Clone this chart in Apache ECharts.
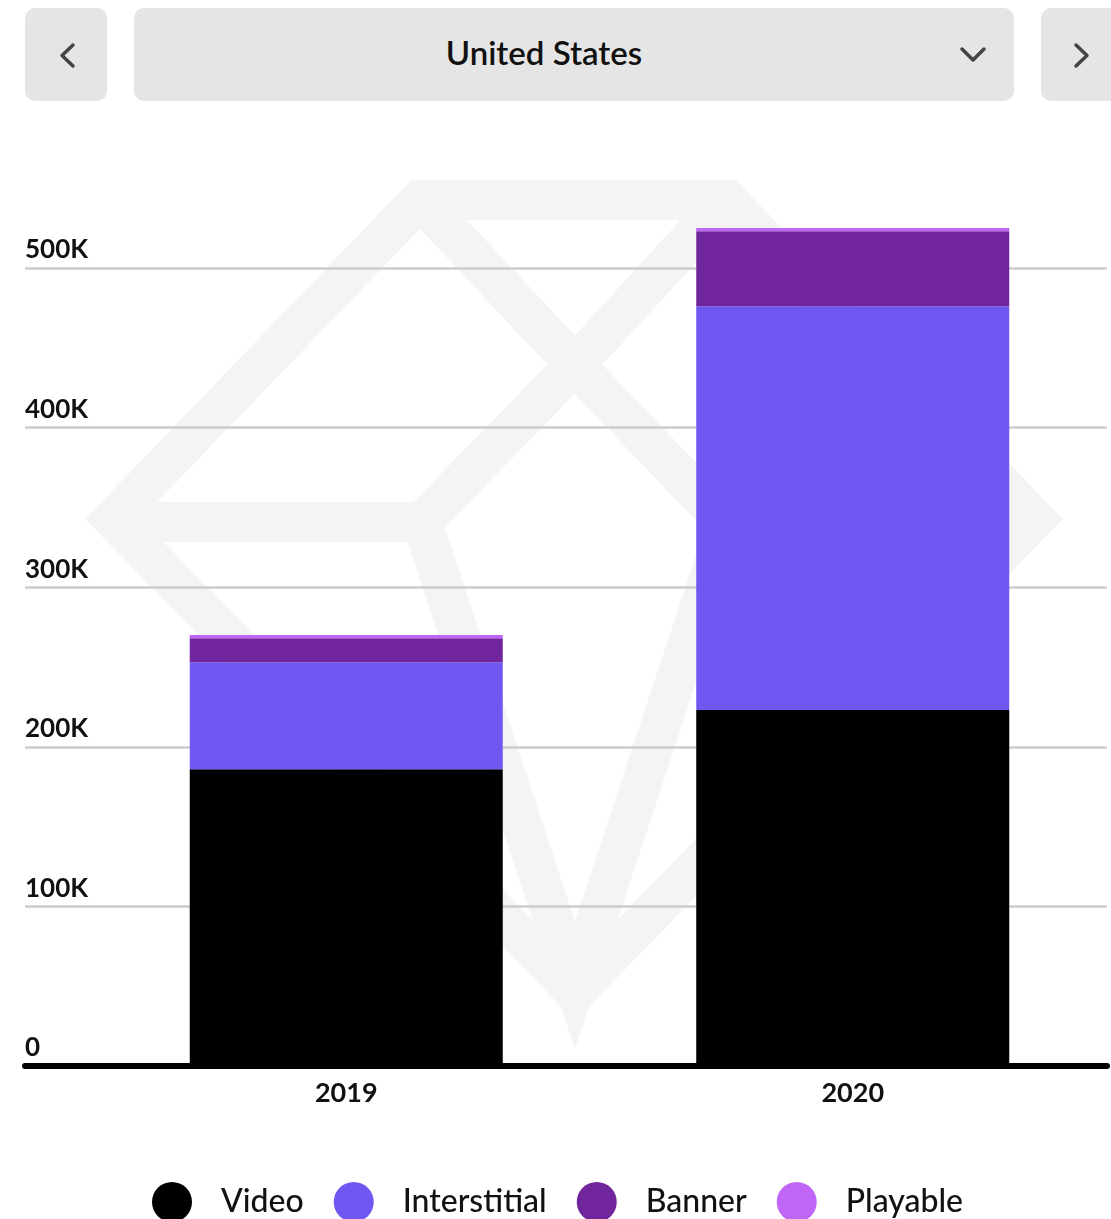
<!DOCTYPE html>
<html>
<head>
<meta charset="utf-8">
<script src="https://cdn.jsdelivr.net/npm/echarts@6/dist/echarts.min.js"></script>
<style>
html,body{margin:0;padding:0;background:#fff;width:1111px;height:1219px;overflow:hidden;}
#chart{position:absolute;left:0;top:0;width:1111px;height:1219px;}
.box{position:absolute;top:8px;height:93px;background:#e5e5e5;border-radius:10px;z-index:2;}
#title{position:absolute;left:344px;width:400px;top:29px;text-align:center;font-family:Lato,"Noto Sans",sans-serif;font-weight:600;font-size:33px;color:#111;z-index:3;line-height:46px;}
#ui{position:absolute;left:0;top:0;z-index:3;}
</style>
</head>
<body>
<div id="chart"></div>
<div class="box" style="left:25px;width:82px;"></div>
<div class="box" style="left:134px;width:880px;"></div>
<div class="box" style="left:1041px;width:90px;"></div>
<div id="title">United States</div>
<svg id="ui" width="1111" height="120">
  <polyline points="73,45 62,55.5 73,66" fill="none" stroke="#444" stroke-width="3.5" stroke-linecap="round" stroke-linejoin="round"/>
  <polyline points="962,49 973,60 984,49" fill="none" stroke="#444" stroke-width="3.5" stroke-linecap="round" stroke-linejoin="round"/>
  <polyline points="1076,45 1087,55.5 1076,66" fill="none" stroke="#444" stroke-width="3.5" stroke-linecap="round" stroke-linejoin="round"/>
</svg>
<script>
// ---- data ----
const years = ['2019', '2020'];
const seriesNames = ['Video', 'Interstitial', 'Banner', 'Playable'];
const video = [186000, 223000];
const interstitial = [67000, 253000];
const banner = [15000, 47000];
const playable = [2000, 2000];
const yTicks = [0, 100000, 200000, 300000, 400000, 500000];
const yTickLabels = ['0', '100K', '200K', '300K', '400K', '500K'];

const colors = ['#000000', '#7157f1', '#70259d', '#bf66f7'];
const FONT = 'Lato, "Noto Sans", sans-serif';

const chart = echarts.init(document.getElementById('chart'), null, {renderer: 'canvas'});

const seriesData = [video, interstitial, banner, playable];

const wm = '#f4f4f4';
const wmStyle = {stroke: wm, lineWidth: 40, fill: null, lineJoin: 'miter'};

const option = {
  animation: false,
  backgroundColor: '#ffffff',
  color: colors,
  graphic: [
    {type: 'polygon', z: -100, shape: {points: [[420,200],[727,200],[1035,519],[575,992],[113,519]]}, style: wmStyle},
    {type: 'polyline', z: -100, shape: {points: [[430,210],[575,365],[725,522]]}, style: wmStyle},
    {type: 'polyline', z: -100, shape: {points: [[717,210],[575,365],[422,522]]}, style: wmStyle},
    {type: 'polyline', z: -100, shape: {points: [[113,522],[422,522]]}, style: wmStyle},
    {type: 'polyline', z: -100, shape: {points: [[728,522],[1035,522]]}, style: wmStyle},
    {type: 'polyline', z: -100, shape: {points: [[422,522],[575,985],[728,522]]}, style: wmStyle}
  ],
  legend: {
    data: seriesNames,
    left: 147,
    top: 1177,
    icon: 'circle',
    itemWidth: 40,
    itemHeight: 40,
    itemGap: 30,
    textStyle: {fontFamily: FONT, fontSize: 32, fontWeight: 500, color: '#111', padding: [0, 0, 0, 24]}
  },
  grid: [
    {left: 25, right: 4, top: 268, bottom: 153, containLabel: false},
    {left: 93, right: 5, top: 268, bottom: 153, containLabel: false}
  ],
  xAxis: [
    {
      type: 'category', gridIndex: 0, data: years, z: 10,
      axisLine: {show: true, lineStyle: {color: '#000', width: 6}},
      axisTick: {show: false}, axisLabel: {show: false}, splitLine: {show: false}
    },
    {
      type: 'category', gridIndex: 1, data: years,
      axisLine: {show: false}, axisTick: {show: false},
      axisLabel: {fontFamily: FONT, fontSize: 27, fontWeight: 'bold', color: '#111', margin: 14}
    }
  ],
  yAxis: [
    {
      type: 'value', gridIndex: 0, min: yTicks[0], max: yTicks[yTicks.length - 1], interval: 100000,
      axisLine: {show: false}, axisTick: {show: false},
      splitLine: {show: true, showMinLine: false, lineStyle: {color: '#cccccc', width: 2.5}},
      axisLabel: {
        inside: true, align: 'left', verticalAlign: 'bottom', margin: 0,
        padding: [0, 0, 5, 0],
        fontFamily: FONT, fontSize: 26, fontWeight: 'bold', color: '#111',
        formatter: function (v) { const i = yTicks.indexOf(v); return i >= 0 ? yTickLabels[i] : ''; }
      },
      z: 1
    },
    {
      type: 'value', gridIndex: 1, min: yTicks[0], max: yTicks[yTicks.length - 1], interval: 100000,
      show: false
    }
  ],
  series: seriesNames.map((name, i) => ({
    name: name,
    type: 'bar',
    stack: 'total',
    xAxisIndex: 1,
    yAxisIndex: 1,
    barWidth: '61.8%',
    clip: false,
    z: 3,
    itemStyle: {color: colors[i]},
    data: seriesData[i]
  }))
};
chart.setOption(option);
</script>
</body>
</html>
